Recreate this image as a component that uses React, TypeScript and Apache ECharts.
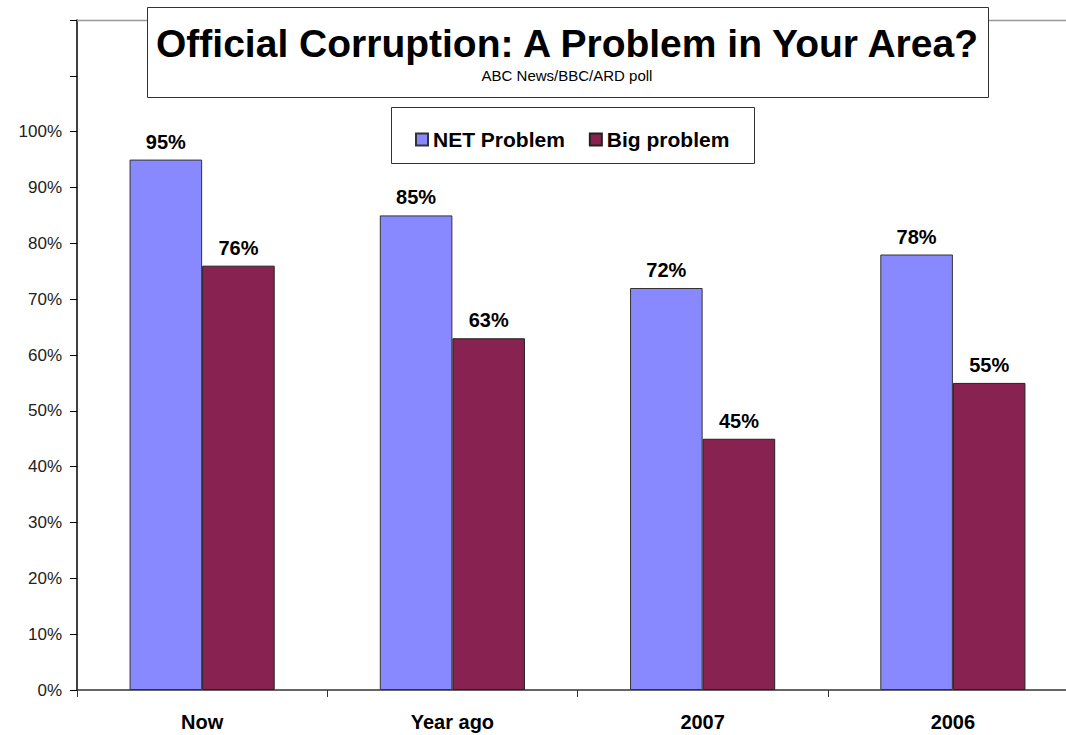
import React, { useEffect, useRef } from "react";
import * as echarts from "echarts";

const categories = ["Now", "Year ago", "2007", "2006"];
const netProblem = [95, 85, 72, 78];
const bigProblem = [76, 63, 45, 55];
const seriesNames = ["NET Problem", "Big problem"];
const titleText = "Official Corruption: A Problem in Your Area?";
const subtitleText = "ABC News/BBC/ARD poll";

export default function App() {
  const ref = useRef<HTMLDivElement>(null);
  useEffect(() => {
    document.body.style.margin = "0";
    if (!ref.current) return;
    const chart = echarts.init(ref.current, null, { renderer: "svg" });
    const font = "Liberation Sans, Arial, sans-serif";
    const labelStyle = {
      show: true,
      position: "top",
      distance: 8,
      formatter: (p: any) => p.value + "%",
      fontFamily: font,
      fontWeight: "bold",
      fontSize: 20,
      color: "#000",
    };
    chart.setOption({
      animation: false,
      backgroundColor: "#fff",
      textStyle: { fontFamily: font },
      grid: {
        left: 77,
        top: 20,
        right: 2,
        bottom: 45,
        show: false,
        containLabel: false,
      },
      legend: {
        left: 410,
        top: 124,
        itemWidth: 12,
        itemHeight: 12,
        itemGap: 24,
        icon: "rect",
        data: seriesNames,
        textStyle: { fontFamily: font, fontWeight: "bold", fontSize: 21, color: "#000" },
        z: 20,
      },
      graphic: [
        {
          type: "line",
          shape: { x1: 77, y1: 20.5, x2: 1080, y2: 20.5 },
          style: { stroke: "#999", lineWidth: 1.5 },
          z: 1,
        },
        {
          type: "rect",
          shape: { x: 147.5, y: 7.5, width: 841, height: 90 },
          style: { fill: "#fff", stroke: "#333", lineWidth: 1 },
          z: 10,
        },
        {
          type: "text",
          x: 567,
          y: 43,
          style: {
            text: titleText,
            fontFamily: font,
            fontWeight: "bold",
            fontSize: 39,
            fill: "#000",
            align: "center",
            verticalAlign: "middle",
          },
          z: 11,
        },
        {
          type: "text",
          x: 567,
          y: 75,
          style: {
            text: subtitleText,
            fontFamily: font,
            fontSize: 15,
            fill: "#000",
            align: "center",
            verticalAlign: "middle",
          },
          z: 11,
        },
        {
          type: "rect",
          shape: { x: 391.5, y: 107.5, width: 363, height: 56 },
          style: { fill: "#fff", stroke: "#333", lineWidth: 1 },
          z: 10,
        },
      ],
      xAxis: {
        type: "category",
        data: categories,
        axisLine: { lineStyle: { color: "#333", width: 1.5 } },
        axisTick: { show: true, length: 7, lineStyle: { color: "#333" } },
        axisLabel: {
          fontFamily: font,
          fontWeight: "bold",
          fontSize: 20,
          color: "#000",
          margin: 22,
        },
      },
      yAxis: {
        type: "value",
        min: 0,
        max: 120,
        interval: 10,
        axisLine: { show: true, lineStyle: { color: "#000", width: 1.5 } },
        axisTick: { show: true, length: 7, lineStyle: { color: "#000" } },
        splitLine: { show: false },
        axisLabel: {
          formatter: (v: number) => (v <= 100 ? v + "%" : ""),
          fontFamily: font,
          fontSize: 17,
          color: "#222",
          margin: 15,
        },
      },
      series: [
        {
          name: seriesNames[0],
          type: "bar",
          data: netProblem,
          barGap: "0%",
          barCategoryGap: "42%",
          itemStyle: { color: "#8888FF", borderColor: "#333", borderWidth: 1 },
          label: labelStyle,
        },
        {
          name: seriesNames[1],
          type: "bar",
          data: bigProblem,
          itemStyle: { color: "#882250", borderColor: "#222", borderWidth: 1 },
          label: labelStyle,
        },
      ],
    });
    return () => chart.dispose();
  }, []);
  return (
    <div style={{ width: 1066, height: 735, overflow: "hidden", position: "relative" }}>
      <div ref={ref} style={{ width: 1080, height: 735 }} />
    </div>
  );
}
